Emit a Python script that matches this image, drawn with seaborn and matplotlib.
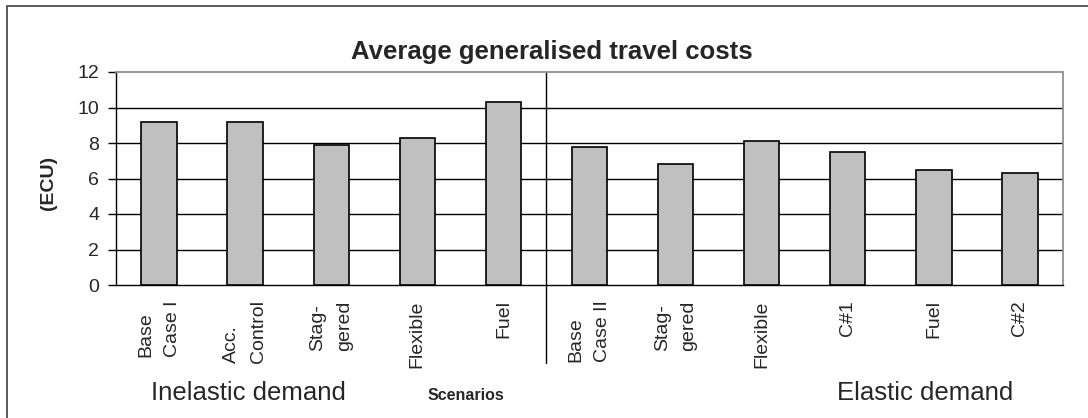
import matplotlib
matplotlib.use("Agg")
import matplotlib.pyplot as plt
import matplotlib.transforms as mtransforms
from matplotlib.patches import Rectangle
import seaborn as sns
import pandas as pd

categories = ["Base\nCase I", "Acc.\nControl", "Stag-\ngered", "Flexible", "Fuel",
              "Base\nCase II", "Stag-\ngered", "Flexible", "C#1", "Fuel", "C#2"]
costs = [9.2, 9.2, 7.9, 8.3, 10.3, 7.8, 6.8, 8.1, 7.5, 6.5, 6.3]
y_ticks = [0, 2, 4, 6, 8, 10, 12]
title = "Average generalised travel costs"
y_label = "(ECU)"
x_label = "Scenarios"
group_labels = ["Inelastic demand", "Elastic demand"]

sns.set_theme(style="white")
plt.rcParams['font.family'] = ['Liberation Sans', 'DejaVu Sans']

W, H = 1088, 418
fig = plt.figure(figsize=(W / 100, H / 100), dpi=100)
ax = fig.add_axes([116 / W, 1 - 285 / H, (1063 - 116) / W, (285 - 72) / H])

df = pd.DataFrame({"pos": list(range(len(costs))), "cost": costs})
sns.barplot(data=df, x="pos", y="cost", ax=ax, color="#c0c0c0", saturation=1,
            width=0.41, edgecolor="black", linewidth=1.2, zorder=3)

ax.set_xlim(-0.5, len(costs) - 0.5)
ax.set_ylim(0, 12)
ax.set_yticks(y_ticks)
ax.set_yticklabels([str(v) for v in y_ticks], fontsize=14)
for v in y_ticks[1:-1]:
    ax.axhline(v, color="black", lw=1, zorder=1)

ax.set_xticks(range(len(categories)))
ax.set_xticklabels(categories, rotation=90, fontsize=14, linespacing=1.75)
for lbl in ax.get_xticklabels():
    lbl.set_multialignment("left")
    lbl.set_verticalalignment("top")
    lbl.set_horizontalalignment("center")
ax.tick_params(axis="x", which="major", length=0, pad=11)
minor = [i - 0.5 for i in range(len(costs) + 1) if i != 5]
ax.set_xticks(minor, minor=True)
ax.tick_params(axis="x", which="minor", direction="inout", length=14, width=1, color="black")
ax.tick_params(axis="y", which="major", direction="out", length=6, width=1, color="black", pad=6, left=True)
ax.set_xlabel("")
ax.set_ylabel("")

for s in ["left", "bottom"]:
    ax.spines[s].set_color("black")
    ax.spines[s].set_linewidth(1)
for s in ["top", "right"]:
    ax.spines[s].set_color("#909090")
    ax.spines[s].set_linewidth(1.3)

trans = mtransforms.blended_transform_factory(ax.transData, ax.transAxes)
ax.plot([4.5, 4.5], [1, -0.366], transform=trans, clip_on=False, color="black", lw=1)

fig.text(552 / W, 1 - 52 / H, title, ha="center", va="center", fontsize=18.5, fontweight="bold")
fig.text(48 / W, 1 - 183 / H, y_label, ha="center", va="center", rotation=90, fontsize=14, fontweight="bold")
fig.text(248 / W, 1 - 393 / H, group_labels[0], ha="center", va="center", fontsize=18.5)
fig.text(925 / W, 1 - 393 / H, group_labels[1], ha="center", va="center", fontsize=18.5)
fig.text(466 / W, 1 - 396 / H, x_label, ha="center", va="center", fontsize=11.5, fontweight="bold")

fig.patches.append(Rectangle((7 / W, -0.01), 1.0, 1 - 6 / H + 0.01, transform=fig.transFigure,
                             fill=False, edgecolor="#404040", lw=1.2))

fig.savefig("out.png", dpi=100)
